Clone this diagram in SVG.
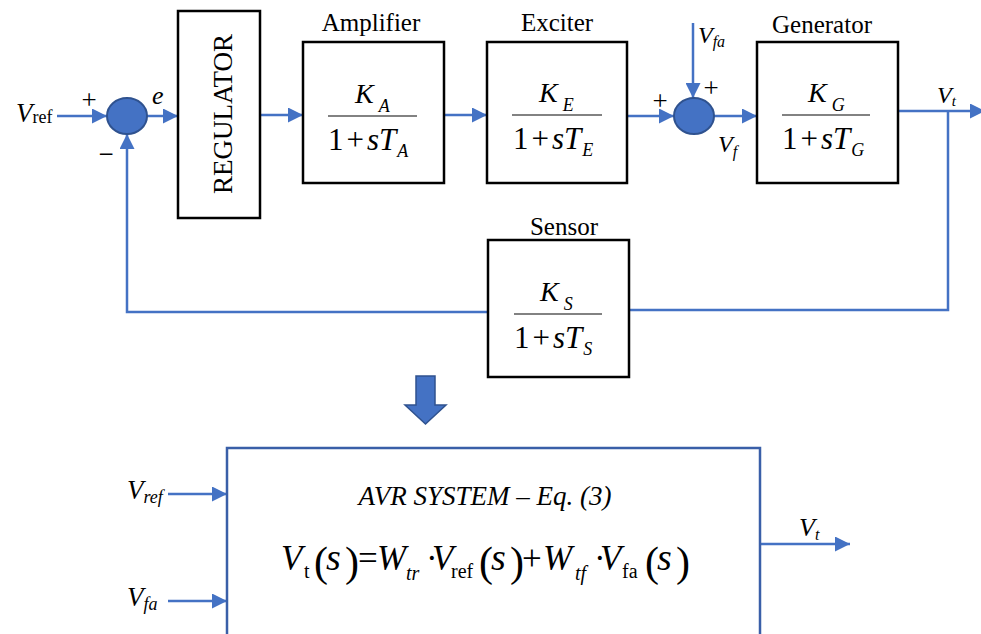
<svg xmlns="http://www.w3.org/2000/svg" width="981" height="634" viewBox="0 0 981 634">
<defs>
<marker id="ah" markerUnits="userSpaceOnUse" markerWidth="15" markerHeight="15" refX="15" refY="7.5" orient="auto">
<path d="M0,0 L15,7.5 L0,15 z" fill="#4472C4"/>
</marker>
<style>
text{font-family:"Liberation Serif","Times New Roman",serif;fill:#000}
.it{font-style:italic}
.box{fill:#fff;stroke:#000;stroke-width:2.5}
.sum{fill:#4472C4;stroke:#2F528F;stroke-width:2}
.wire{fill:none;stroke:#4472C4;stroke-width:2.5}
.arr{marker-end:url(#ah)}
.fl{stroke:#595959;stroke-width:1.6}
.ttl{font-size:25px;text-anchor:middle}
.num{font-size:28px}
.den{font-size:31px}
.sub{font-size:18px}
.sg{font-size:27px;text-anchor:middle}
</style>
</defs>
<rect width="981" height="634" fill="#fff"/>

<g id="connectors">
<line class="wire arr" x1="57" y1="116" x2="107" y2="116"/>
<line class="wire arr" x1="147" y1="116" x2="178" y2="116"/>
<line class="wire arr" x1="260" y1="115" x2="303" y2="115"/>
<line class="wire arr" x1="444" y1="115" x2="487" y2="115"/>
<line class="wire arr" x1="627" y1="116" x2="674" y2="116"/>
<line class="wire arr" x1="693" y1="23" x2="693" y2="98"/>
<line class="wire arr" x1="714" y1="116" x2="757" y2="116"/>
<line class="wire arr" x1="898" y1="111" x2="985" y2="111"/>
<polyline class="wire" points="948,111 948,310 630,310"/>
<polyline class="wire arr" points="488,312 127,312 127,134"/>
<line class="wire arr" x1="168" y1="494" x2="227" y2="494"/>
<line class="wire arr" x1="168" y1="601" x2="227" y2="601"/>
<line class="wire arr" x1="760" y1="544" x2="850" y2="544"/>
</g>

<g id="input-labels">
<text x="16" y="122" class="it" font-size="27">V<tspan class="sub" font-style="normal" dy="1">ref</tspan></text>
<text x="89" y="109" class="sg">+</text>
<text x="106" y="163" class="sg">−</text>
<text x="152" y="104" class="it" font-size="26">e</text>
</g>

<g id="sum1"><ellipse class="sum" cx="127" cy="116" rx="20" ry="18"/></g>

<g id="regulator">
<rect class="box" x="178" y="11" width="82" height="207"/>
<text transform="translate(232,114) rotate(-90)" font-size="27" text-anchor="middle">REGULATOR</text>
</g>

<g id="amplifier">
<text class="ttl" x="371" y="31">Amplifier</text>
<rect class="box" x="303" y="42" width="141" height="141"/>
<text x="355" y="103" class="it num">K<tspan class="sub" dx="5" dy="9">A</tspan></text>
<line class="fl" x1="328" y1="116" x2="417" y2="116"/>
<text x="328" y="150" class="den">1<tspan dx="3">+</tspan><tspan dx="3" class="it">sT</tspan><tspan class="it sub" dx="1" dy="7">A</tspan></text>
</g>

<g id="exciter">
<text class="ttl" x="557" y="31">Exciter</text>
<rect class="box" x="487" y="42" width="140" height="141"/>
<text x="539" y="102" class="it num">K<tspan class="sub" dx="5" dy="9">E</tspan></text>
<line class="fl" x1="512" y1="115" x2="602" y2="115"/>
<text x="513" y="149" class="den">1<tspan dx="3">+</tspan><tspan dx="3" class="it">sT</tspan><tspan class="it sub" dx="1" dy="7">E</tspan></text>
</g>

<g id="sum2">
<ellipse class="sum" cx="694" cy="116" rx="20" ry="18"/>
<text x="660" y="110" class="sg">+</text>
<text x="711" y="97" class="sg">+</text>
<text x="698" y="43" class="it" font-size="24">V<tspan font-size="16" dy="4">fa</tspan></text>
<text x="718" y="152" class="it" font-size="24">V<tspan font-size="16" dy="5">f</tspan></text>
</g>

<g id="generator">
<text class="ttl" x="822" y="33">Generator</text>
<rect class="box" x="757" y="42" width="141" height="141"/>
<text x="808" y="102" class="it num">K<tspan class="sub" dx="5" dy="9">G</tspan></text>
<line class="fl" x1="782" y1="115" x2="870" y2="115"/>
<text x="782" y="149" class="den">1<tspan dx="3">+</tspan><tspan dx="3" class="it">sT</tspan><tspan class="it sub" dx="1" dy="7">G</tspan></text>
<text x="937" y="103" class="it" font-size="24">V<tspan font-size="15" dy="3">t</tspan></text>
</g>

<g id="sensor">
<text class="ttl" x="564" y="235">Sensor</text>
<rect class="box" x="488" y="240" width="141" height="137"/>
<text x="540" y="301" class="it num">K<tspan class="sub" dx="5" dy="9">S</tspan></text>
<line class="fl" x1="514" y1="314" x2="602" y2="314"/>
<text x="514" y="348" class="den">1<tspan dx="3">+</tspan><tspan dx="3" class="it">sT</tspan><tspan class="it sub" dx="1" dy="7">S</tspan></text>
</g>

<g id="transform-arrow">
<polygon points="416,376 435,376 435,405 446,405 425.5,424 405,405 416,405" fill="#4472C4" stroke="#2F528F" stroke-width="1.5"/>
</g>

<g id="avr-system">
<rect x="227" y="448" width="533" height="190" fill="#fff" stroke="#3A5FA8" stroke-width="2.5"/>
<text x="485" y="505" class="it" font-size="27" text-anchor="middle">AVR SYSTEM – Eq. (3)</text>
<text y="570" font-size="35"><tspan x="281" class="it">V</tspan><tspan x="304" y="578" font-size="20">t</tspan><tspan x="314" y="576" font-size="42">(</tspan><tspan x="326" y="570" class="it" font-size="38">s</tspan><tspan x="345" y="576" font-size="42">)</tspan><tspan x="358" y="570">=</tspan><tspan x="377" class="it">W</tspan><tspan x="406" y="580" font-size="20" class="it">tr</tspan><tspan x="426" y="570">·</tspan><tspan x="432" class="it">V</tspan><tspan x="451" y="578" font-size="20">ref</tspan><tspan x="479" y="576" font-size="42">(</tspan><tspan x="491" y="570" class="it" font-size="38">s</tspan><tspan x="510" y="576" font-size="42">)</tspan><tspan x="522" y="570">+</tspan><tspan x="543" class="it">W</tspan><tspan x="575" y="580" font-size="20" class="it">tf</tspan><tspan x="594" y="570">·</tspan><tspan x="600" class="it">V</tspan><tspan x="622" y="578" font-size="20">fa</tspan><tspan x="645" y="576" font-size="42">(</tspan><tspan x="657" y="570" class="it" font-size="38">s</tspan><tspan x="676" y="576" font-size="42">)</tspan></text>
</g>

<g id="avr-labels">
<text x="127" y="499" class="it" font-size="27">V<tspan font-size="18" dy="4">ref</tspan></text>
<text x="127" y="606" class="it" font-size="27">V<tspan font-size="18" dy="4">fa</tspan></text>
<text x="799" y="536" class="it" font-size="26">V<tspan font-size="16" dy="4">t</tspan></text>
</g>
</svg>
